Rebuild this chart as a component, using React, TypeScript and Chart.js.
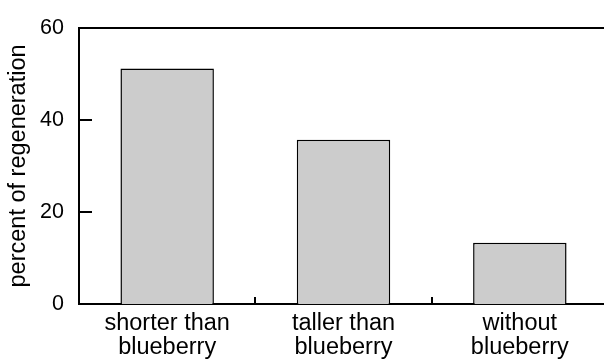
import React, { useEffect, useRef } from "react";
import { Chart, registerables } from "chart.js";

Chart.register(...registerables);

const categories: string[][] = [
  ["shorter than", "blueberry"],
  ["taller than", "blueberry"],
  ["without", "blueberry"],
];
const values: number[] = [51.2, 35.7, 13.3];
const yTicks: number[] = [0, 20, 40, 60];

const FONT = "'Liberation Sans', Arial, Helvetica, sans-serif";

const framePlugin = {
  id: "framePlugin",
  afterDraw(chart: any) {
    const { ctx, chartArea, scales } = chart;
    const x = scales.x;
    const y = scales.y;
    ctx.save();
    ctx.strokeStyle = "#000";
    ctx.lineWidth = 2;
    ctx.beginPath();
    ctx.moveTo(chartArea.left - 1, chartArea.top);
    ctx.lineTo(chartArea.right, chartArea.top);
    ctx.stroke();
    yTicks.forEach((v) => {
      if (v === y.min || v === y.max) return;
      const py = Math.round(y.getPixelForValue(v));
      ctx.beginPath();
      ctx.moveTo(chartArea.left, py);
      ctx.lineTo(chartArea.left + 13, py);
      ctx.stroke();
    });
    for (let i = 0; i < categories.length - 1; i++) {
      const px = Math.round((x.getPixelForValue(i) + x.getPixelForValue(i + 1)) / 2);
      ctx.beginPath();
      ctx.moveTo(px, chartArea.bottom);
      ctx.lineTo(px, chartArea.bottom - 7);
      ctx.stroke();
    }
    ctx.restore();
  },
};

export default function App() {
  const ref = useRef<HTMLCanvasElement | null>(null);
  useEffect(() => {
    if (!ref.current) return;
    const chart = new Chart(ref.current, {
      type: "bar",
      data: {
        labels: categories,
        datasets: [
          {
            data: values,
            backgroundColor: "#cccccc",
            borderColor: "#000000",
            borderWidth: 1.5,
            categoryPercentage: 1,
            barPercentage: 0.53,
          },
        ],
      },
      options: {
        responsive: false,
        animation: false,
        devicePixelRatio: 1,
        layout: { padding: { top: 24, right: 4, left: 0, bottom: 0 } },
        plugins: { legend: { display: false }, tooltip: { enabled: false } },
        scales: {
          x: {
            grid: { display: false, drawTicks: false },
            border: { display: true, color: "#000", width: 2 },
            ticks: {
              color: "#000",
              font: { family: FONT, size: 23.5, lineHeight: 1.02 },
              padding: 8,
              maxRotation: 0,
            },
            afterFit: (s: any) => {
              s.height = 56;
            },
          },
          y: {
            min: 0,
            max: 60,
            grid: { display: false, drawTicks: false },
            border: { display: true, color: "#000", width: 2 },
            ticks: {
              stepSize: 20,
              color: "#000",
              font: { family: FONT, size: 21.5 },
              padding: 15,
            },
            title: {
              display: true,
              text: "percent of regeneration",
              color: "#000",
              font: { family: FONT, size: 23.5 },
              padding: { top: 4, bottom: 0 },
            },
            afterFit: (s: any) => {
              s.width = 79;
            },
          },
        },
      },
      plugins: [framePlugin],
    });
    return () => chart.destroy();
  }, []);
  return (
    <div
      style={{
        position: "fixed",
        left: 0,
        top: 0,
        width: 604,
        height: 360,
        overflow: "hidden",
        background: "#fff",
      }}
    >
      <canvas ref={ref} width={612} height={360} style={{ display: "block" }} />
    </div>
  );
}
